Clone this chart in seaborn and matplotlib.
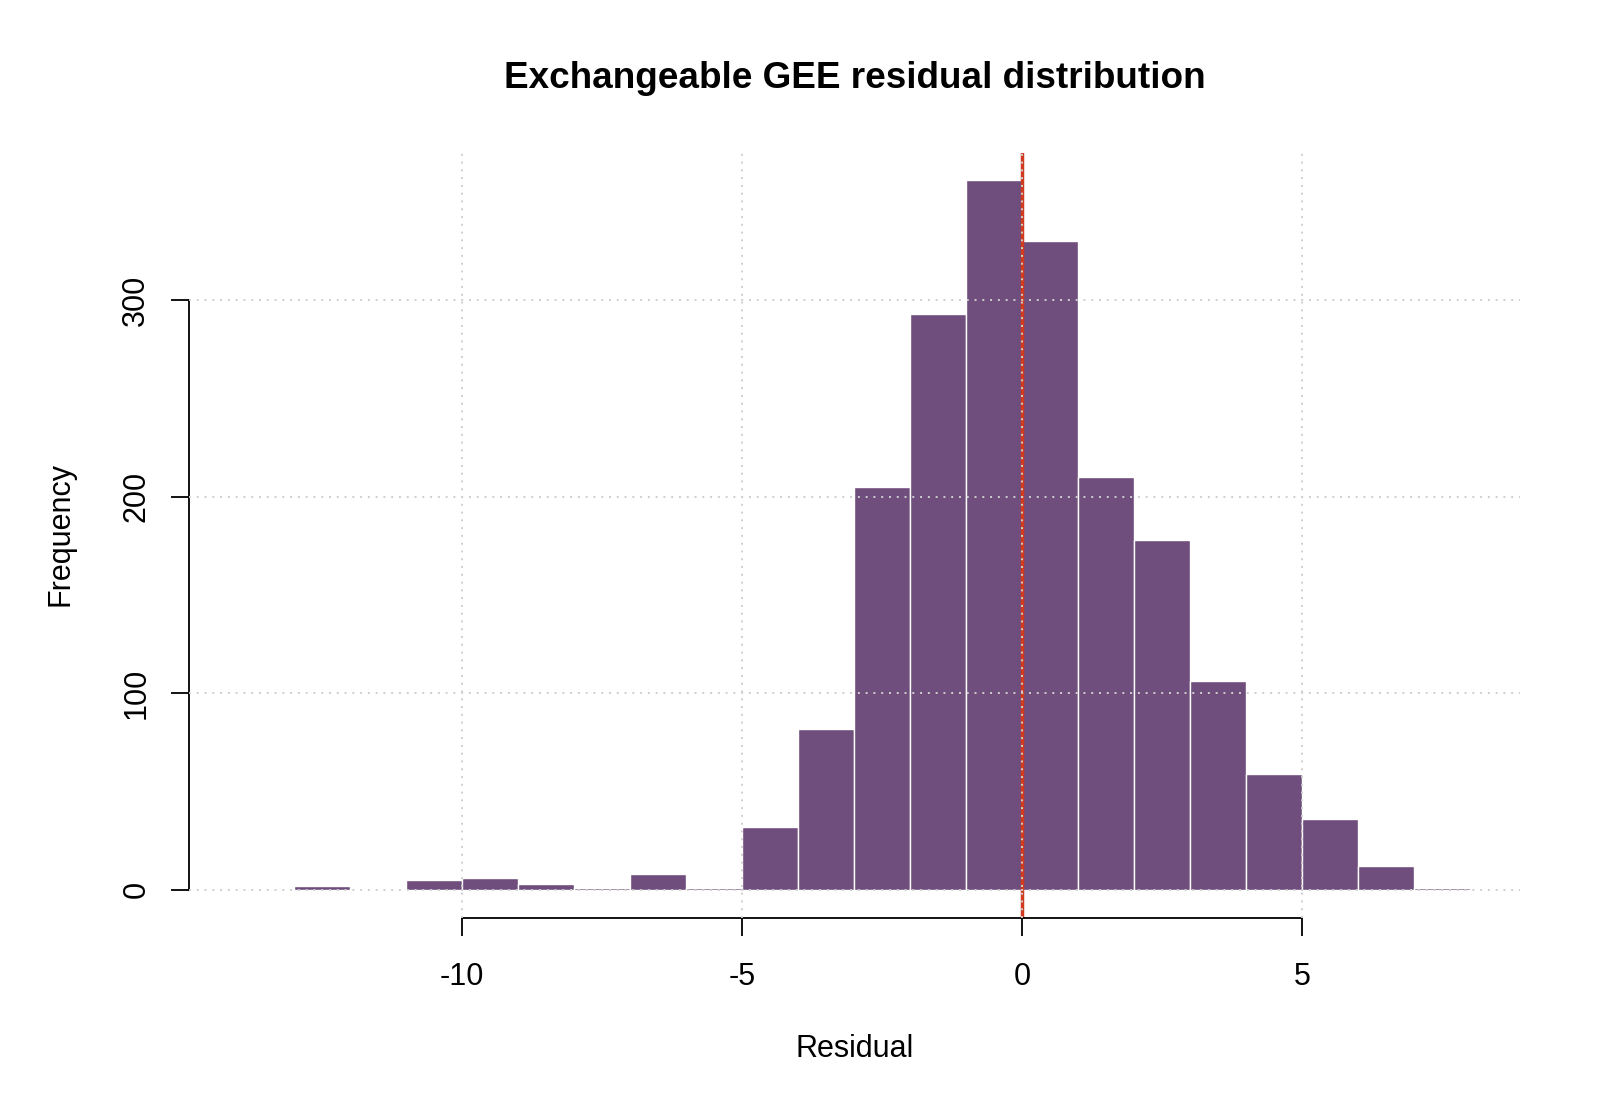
import numpy as np
import pandas as pd
import matplotlib
matplotlib.use("Agg")
import matplotlib.pyplot as plt
import seaborn as sns

# Data: histogram bins (width 1) and counts
bin_edges = list(range(-13, 9))
counts = [2, 0, 5, 6, 3, 1, 8, 1, 32, 82, 205, 293, 361, 330, 210, 178, 106, 59, 36, 12, 1]
bin_centers = [e + 0.5 for e in bin_edges[:-1]]
x_ticks = [-10, -5, 0, 5]
y_ticks = [0, 100, 200, 300]

title = "Exchangeable GEE residual distribution"
x_label = "Residual"
y_label = "Frequency"

sns.set_style("white")
plt.rcParams['font.family'] = ['Liberation Sans', 'DejaVu Sans']
plt.rcParams['text.color'] = 'black'
plt.rcParams['xtick.color'] = 'black'
plt.rcParams['ytick.color'] = 'black'

fig = plt.figure(figsize=(16, 11.08), dpi=100)
ax = fig.add_axes([0.118, 0.1715, 0.832, 0.6905])

df = pd.DataFrame({"resid": bin_centers, "n": counts})
sns.histplot(data=df, x="resid", weights="n", bins=bin_edges, ax=ax,
             color="#6F4D7C", edgecolor="white", linewidth=1.0, alpha=1, zorder=1)

ax.set_xlim(-14.88, 8.89)
ax.set_ylim(-14.4, 375)

# grid on top of bars (R grid())
for gx in x_ticks:
    ax.axvline(gx, color="#CFCFCF", linestyle=(0, (1, 3)), linewidth=1.4, zorder=3)
for gy in y_ticks:
    ax.axhline(gy, color="#CFCFCF", linestyle=(0, (1, 3)), linewidth=1.4, zorder=3)

ax.axvline(0, color="#D03B20", linewidth=2.5, zorder=2)

for s in ["top", "right"]:
    ax.spines[s].set_visible(False)
ax.spines["left"].set_bounds(0, 300)
ax.spines["bottom"].set_bounds(-10, 5)
for s in ["left", "bottom"]:
    ax.spines[s].set_linewidth(1.3)
    ax.spines[s].set_color("black")

ax.set_xticks(x_ticks)
ax.set_yticks(y_ticks)
ax.set_xticklabels([str(v) for v in x_ticks])
ax.set_yticklabels([str(v) for v in y_ticks], rotation=90, va="center")
ax.tick_params(axis="x", pad=19)
ax.tick_params(axis="y", pad=14)
ax.tick_params(axis="both", direction="out", length=13, width=1.3, color="black",
               labelcolor="black", labelsize=22, left=True, bottom=True)
ax.set_xlabel("")
ax.set_ylabel("")

fig.text(0.534, 0.929, title, ha="center", va="center", fontsize=26.6,
         fontweight="bold", color="black")
fig.text(0.534, 0.0533, x_label, ha="center", va="center", fontsize=22, color="black")
fig.text(0.038, 0.518, y_label, ha="center", va="center", fontsize=22,
         rotation=90, color="black")

fig.savefig("out.png", dpi=100)
